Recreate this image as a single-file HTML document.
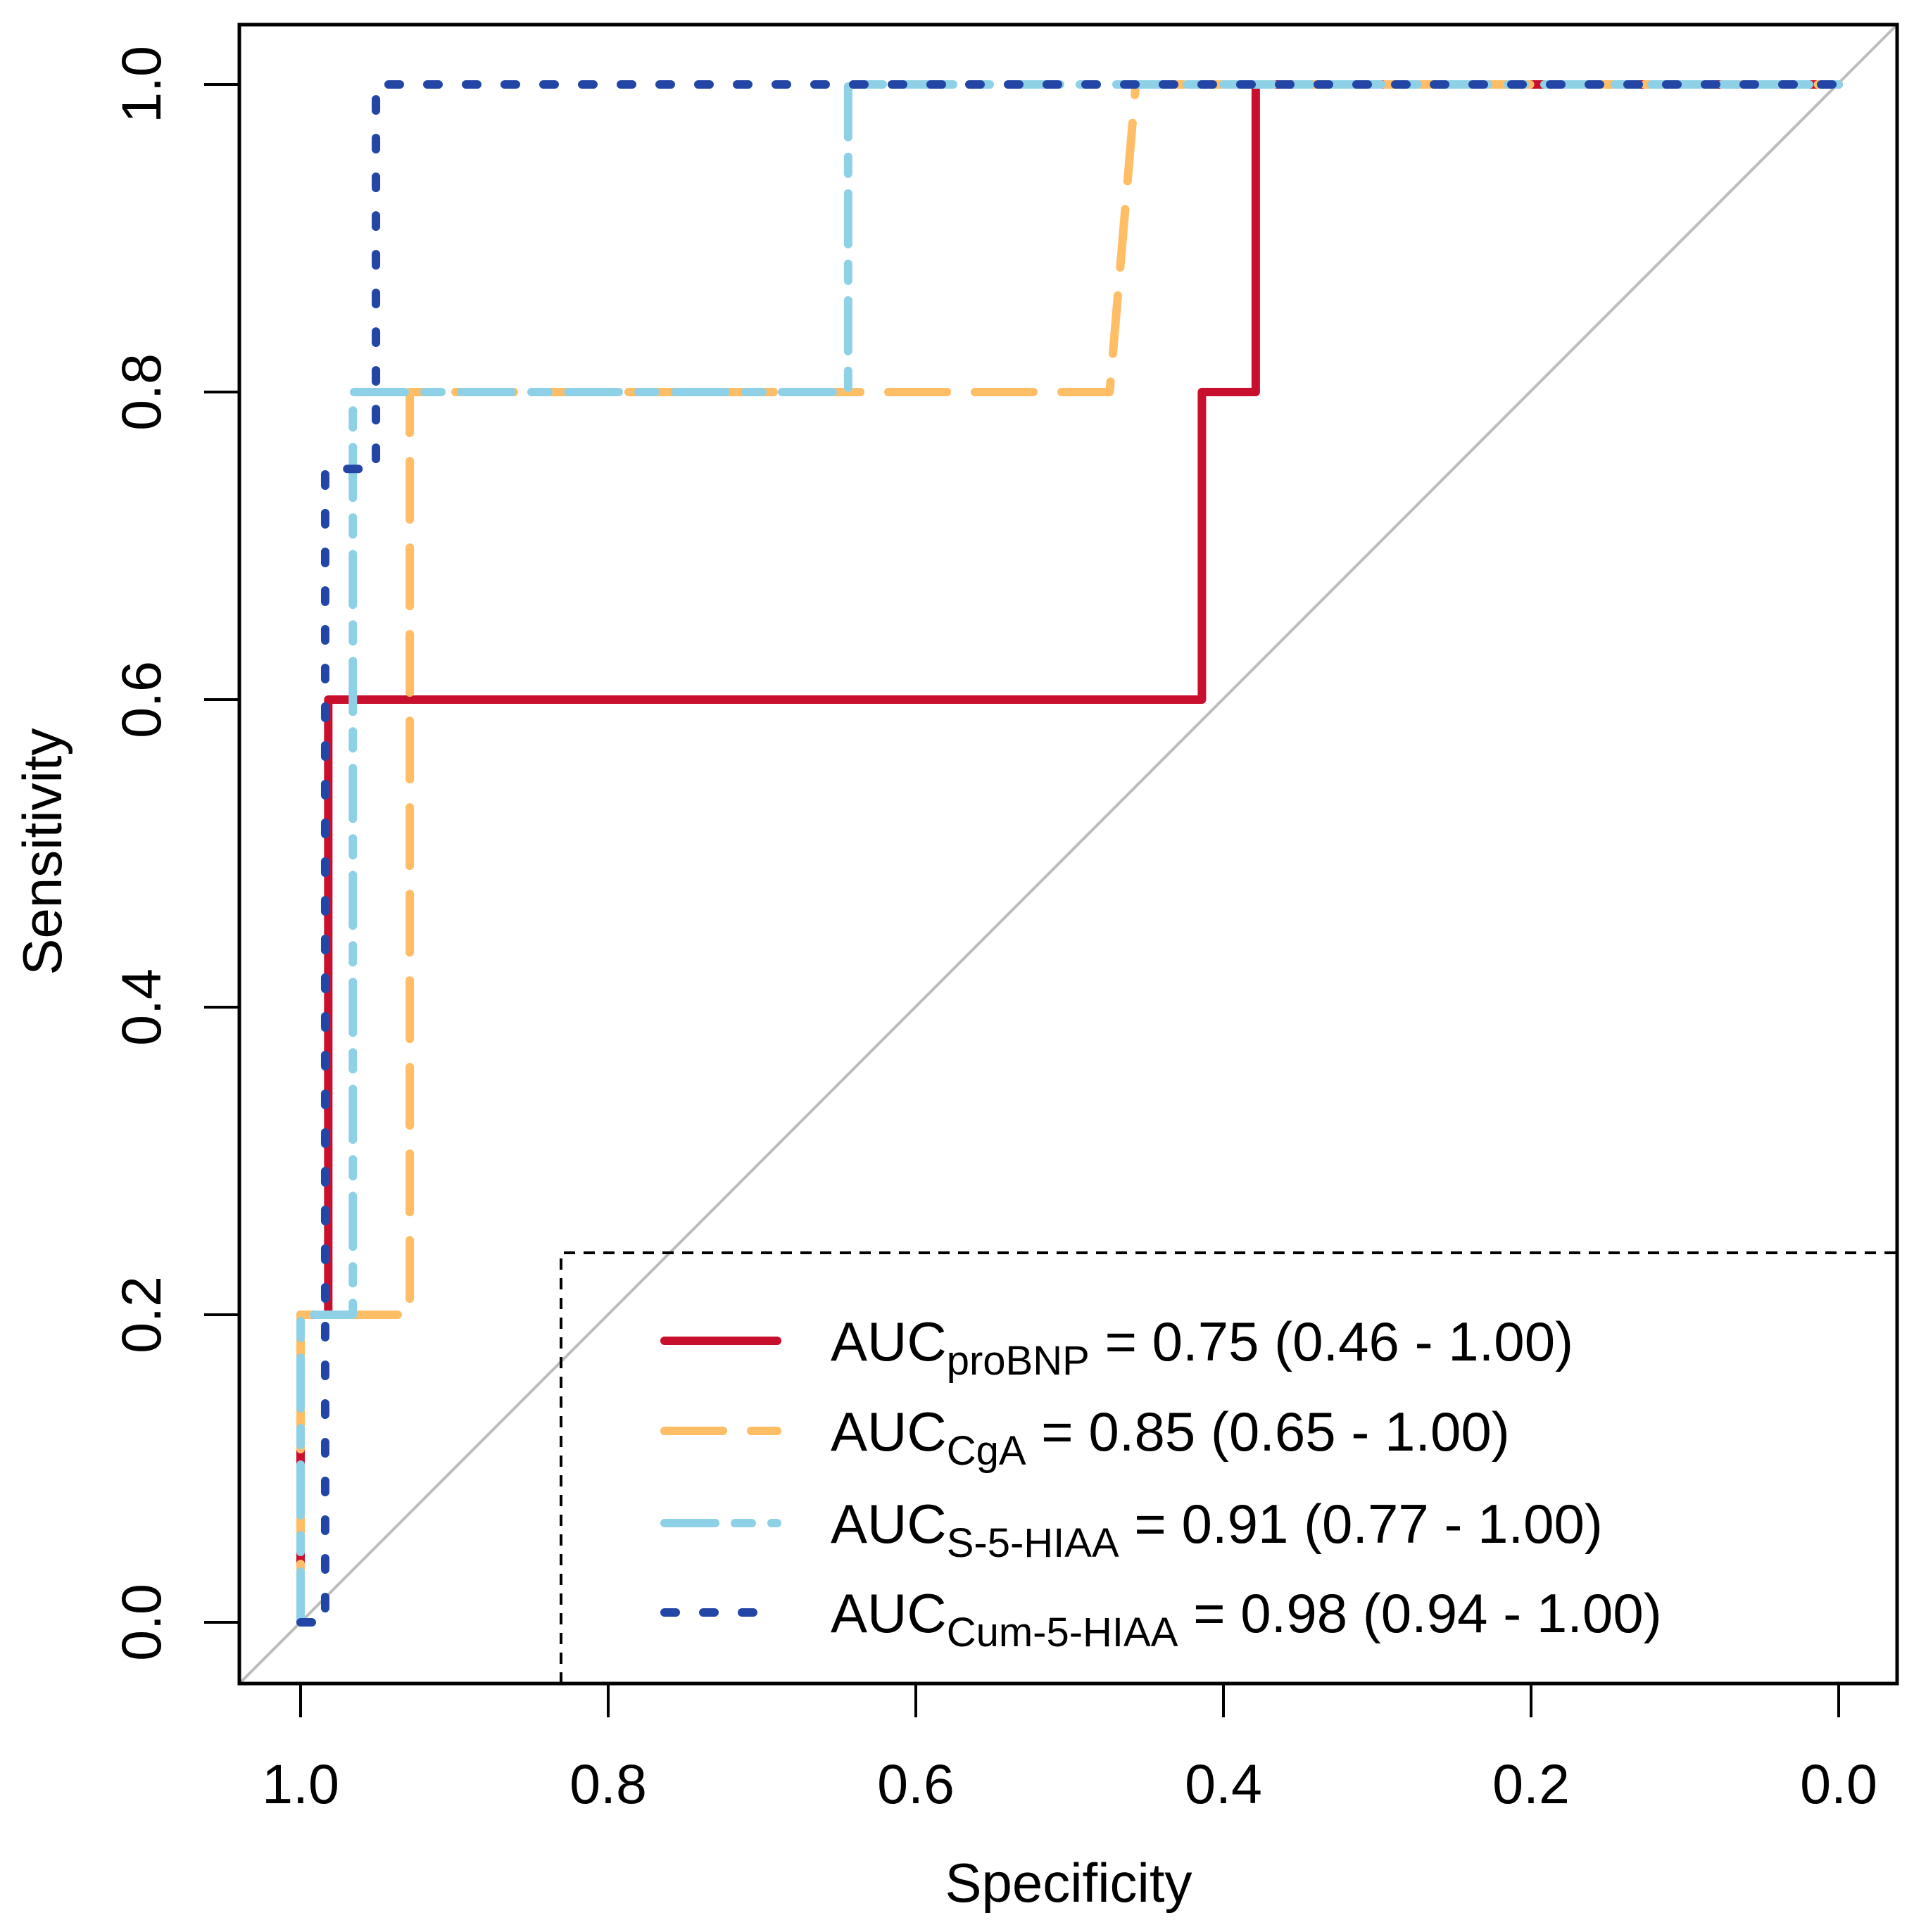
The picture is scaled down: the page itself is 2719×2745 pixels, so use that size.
<!DOCTYPE html>
<html><head><meta charset="utf-8"><style>
html,body{margin:0;padding:0;background:#fff;}
svg{display:block;font-family:"Liberation Sans",Arial,sans-serif;}
</style></head><body>
<svg id="chart" width="2719" height="2745" viewBox="0 0 2719 2745" xmlns="http://www.w3.org/2000/svg">
<rect x="0" y="0" width="2719" height="2745" fill="#fff"/>
<g id="marks"></g>
</svg>
<script>
// Data
const xTicks = [1.0, 0.8, 0.6, 0.4, 0.2, 0.0];
const yTicks = [0.0, 0.2, 0.4, 0.6, 0.8, 1.0];
const tickLabels = ["1.0","0.8","0.6","0.4","0.2","0.0"];
const yTickLabels = ["0.0","0.2","0.4","0.6","0.8","1.0"];
const probnpSpec = [1, 1, 0.982, 0.982, 0.414, 0.414, 0.379, 0.379, 0];
const probnpSens = [0, 0.2, 0.2, 0.6, 0.6, 0.8, 0.8, 1, 1];
const cgaSpec = [1, 1, 0.929, 0.929, 0.474, 0.457, 0];
const cgaSens = [0, 0.2, 0.2, 0.8, 0.8, 1, 1];
const s5Spec = [1, 1, 0.966, 0.966, 0.644, 0.644, 0];
const s5Sens = [0, 0.2, 0.2, 0.8, 0.8, 1, 1];
const cumSpec = [1, 0.984, 0.984, 0.951, 0.951, 0];
const cumSens = [0, 0, 0.75, 0.75, 1, 1];
const legendNames = ["proBNP", "CgA", "S-5-HIAA", "Cum-5-HIAA"];
const legendValues = [" = 0.75 (0.46 - 1.00)", " = 0.85 (0.65 - 1.00)", " = 0.91 (0.77 - 1.00)", " = 0.98 (0.94 - 1.00)"];

const NS = "http://www.w3.org/2000/svg";
const g = document.getElementById("marks");
const X = s => 427 + (1 - s) * 2185;
const Y = v => 2305 - v * 2185;
function mk(tag, attrs, parent) {
  const e = document.createElementNS(NS, tag);
  for (const k in attrs) e.setAttribute(k, attrs[k]);
  (parent || g).appendChild(e);
  return e;
}
// diagonal
let diag = mk("line", {x1: 340, y1: X(1.04) ? Y(-0.04) : 0, x2: 2695, y2: Y(1.04), stroke: "#bdbdbd", "stroke-width": 4});


diag.setAttribute("y1", 2392); diag.setAttribute("y2", 35);

const series = [
  {name: "probnp-curve", sp: probnpSpec, se: probnpSens, color: "#c8102e", dash: "none"},
  {name: "cga-curve", sp: cgaSpec, se: cgaSens, color: "#ffbd66", dash: "83 40"},
  {name: "s5hiaa-curve", sp: s5Spec, se: s5Sens, color: "#8ed1e6", dash: "72 28 24 28"},
  {name: "cum5hiaa-curve", sp: cumSpec, se: cumSens, color: "#2346a6", dash: "16 39"}
];
series.forEach(s => {
  const pts = s.sp.map((v, i) => X(v) + "," + Y(s.se[i])).join(" ");
  const p = mk("polyline", {points: pts, fill: "none", stroke: s.color, "stroke-width": 12, "stroke-linecap": "round", "stroke-linejoin": "round", "stroke-dasharray": s.dash});
  
  
});

// box
const box = mk("rect", {x: 340, y: 35, width: 2355, height: 2357, fill: "none", stroke: "#000", "stroke-width": 5});



// x ticks
xTicks.forEach((t, i) => {
  const l = mk("line", {x1: X(t), y1: 2392, x2: X(t), y2: 2440, stroke: "#000", "stroke-width": 4});
  
  
  const tx = mk("text", {x: X(t), y: 2562, "font-size": 79, "text-anchor": "middle", fill: "#000"});
  
  
  tx.textContent = tickLabels[i];
});
// y ticks
yTicks.forEach((t, i) => {
  const l = mk("line", {x1: 290, y1: Y(t), x2: 340, y2: Y(t), stroke: "#000", "stroke-width": 4});
  
  
  const tx = mk("text", {x: 0, y: 0, "font-size": 79, "text-anchor": "middle", fill: "#000", transform: "translate(228," + Y(t) + ") rotate(-90)"});
  
  
  tx.textContent = yTickLabels[i];
});
const xt = mk("text", {x: 1518, y: 2702, "font-size": 78, "text-anchor": "middle", fill: "#000"});


xt.textContent = "Specificity";
const yt = mk("text", {x: 0, y: 0, "font-size": 78, "text-anchor": "middle", fill: "#000", transform: "translate(87,1210) rotate(-90)"});


yt.textContent = "Sensitivity";

// legend
const lb = mk("path", {d: "M797,2392 L797,1780 L2695,1780", fill: "none", stroke: "#000", "stroke-width": 4, "stroke-dasharray": "16 12"});


const rows = [1905, 2033, 2164, 2291];
series.forEach((s, i) => {
  const l = mk("line", {x1: 944, y1: rows[i], x2: 1104, y2: rows[i], stroke: s.color, "stroke-width": 12, "stroke-linecap": "round", "stroke-dasharray": s.dash});
  
  
  const t = mk("text", {x: 1180, y: rows[i] + 28, "font-size": 78, fill: "#000"});
  
  
  const a = mk("tspan", {}, t); a.textContent = "AUC";
  const b = mk("tspan", {"font-size": 58, dy: 20}, t); b.textContent = legendNames[i];
  const c = mk("tspan", {dy: -20}, t); c.textContent = legendValues[i];
});
</script>
</body></html>
